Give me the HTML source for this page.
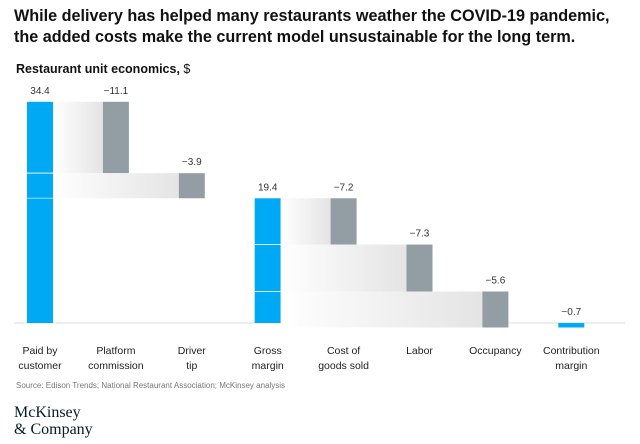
<!DOCTYPE html>
<html><head><meta charset="utf-8"><style>
body{margin:0;width:640px;height:444px;background:#fff;font-family:"Liberation Sans",sans-serif;overflow:hidden;position:relative}
.t{position:absolute;left:14px;top:6px;font-size:16.2px;font-weight:bold;color:#111;line-height:21px}
.st{position:absolute;left:16px;top:62px;font-size:12.5px;font-weight:bold;color:#111}
.st span{font-weight:normal}
.src{position:absolute;left:16px;top:381px;font-size:8px;color:#777}
.logo{position:absolute;left:14px;top:404px;font-family:"Liberation Serif",serif;font-size:16px;line-height:17px;color:#051c2c}
svg{position:absolute;left:0;top:0}
</style></head><body>
<div class="t">While delivery has helped many restaurants weather the COVID-19 pandemic,<br>the added costs make the current model unsustainable for the long term.</div>
<div class="st">Restaurant unit economics, <span>$</span></div>
<svg id="c" width="640" height="444">
<defs><linearGradient id="g" x1="0" x2="1"><stop offset="0" stop-color="#fff"/><stop offset="1" stop-color="#e4e4e4"/></linearGradient></defs>
</svg>
<div class="src">Source: Edison Trends; National Restaurant Association; McKinsey analysis</div>
<div class="logo">McKinsey<br>&amp; Company</div>
<script>
const categories=[["Paid by","customer"],["Platform","commission"],["Driver","tip"],["Gross","margin"],["Cost of","goods sold"],["Labor"],["Occupancy"],["Contribution","margin"]];
const values=[34.4,-11.1,-3.9,19.4,-7.2,-7.3,-5.6,-0.7];
const labels=["34.4","\u221211.1","\u22123.9","19.4","\u22127.2","\u22127.3","\u22125.6","\u22120.7"];
const isTotal=[true,false,false,true,false,false,false,true];
const svg=document.getElementById('c');
const NS='http://www.w3.org/2000/svg';
const base=323,k=6.43,x0=40,step=75.9,bw=26;
const y=v=>base-v*k;
const cx=i=>x0+i*step;
function mk(tag,a){const e=document.createElementNS(NS,tag);for(const n in a)e.setAttribute(n,a[n]);svg.appendChild(e);return e;}
mk('line',{x1:14,x2:625,y1:base,y2:base,stroke:'#ddd','stroke-width':1});
let run=0,lastTotal=0,segs=[];
values.forEach((v,i)=>{
  let top,bot,fill;
  if(isTotal[i]){
    const tv=(i===0)?v:run; run=tv; lastTotal=i;
    top=y(Math.max(tv,0));bot=y(Math.min(tv,0));fill='#00a9f4';
    if(i===values.length-1){top=y(0);bot=y(v);}
  }else{
    top=y(run);bot=y(run+v);run+=v;fill='#939ea4';
    const gx=cx(lastTotal)+bw/2;
    const c=mk('rect',{x:gx,y:top,width:cx(i)-bw/2-gx,height:bot-top,fill:'url(#g)'});
    
    
    segs.push([lastTotal,top]);segs.push([lastTotal,bot]);
  }
  const r=mk('rect',{x:cx(i)-bw/2,y:top,width:bw,height:Math.max(bot-top,1),fill:fill});
  
  
  const lt=mk('text',{x:cx(i),y:top-8,'text-anchor':'middle','font-size':10,fill:'#333'});
  lt.textContent=labels[i];
  
  
  categories[i].forEach((s,j)=>{
    const ct=mk('text',{x:cx(i),y:354+j*15,'text-anchor':'middle','font-size':10.5,fill:'#222'});
    ct.textContent=s;
    
    
  });
});
segs.forEach(([t,yy])=>{if(yy>y(values[t])+1&&yy<base-1)mk('line',{x1:cx(t)-bw/2,x2:cx(t)+bw/2,y1:yy,y2:yy,stroke:'#fff','stroke-width':1,opacity:0.6});});
</script>
</body></html>
